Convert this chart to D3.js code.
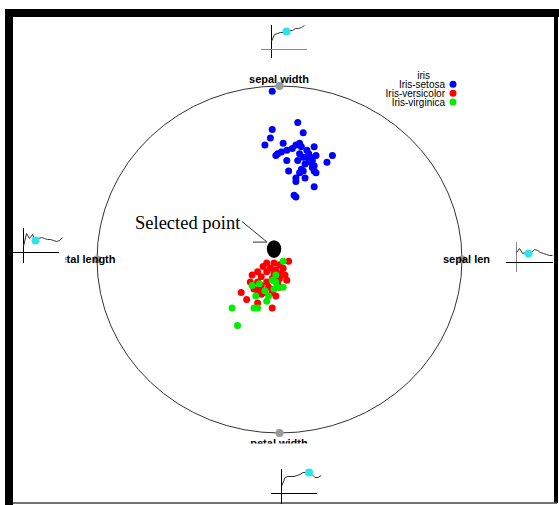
<!DOCTYPE html>
<html>
<head>
<meta charset="utf-8">
<script src="https://cdn.jsdelivr.net/npm/d3@7"></script>
<style>
  html, body { margin: 0; padding: 0; background: #fff; }
  svg { display: block; }
</style>
</head>
<body>
<script>
// RadViz projection of the iris data set: projected coordinates in percent of the anchor radius.
const species = ["Iris-setosa", "Iris-versicolor", "Iris-virginica"];
const speciesColors = ["#0000ff", "#ff0000", "#00ee00"];

const setosa = [
  [-4, 97], [10, 79], [-4, 75], [13, 73], [-5, 70], [-8, 66], [2, 67], [9, 66], [11, 67], [12, 65],
  [19, 65], [4, 63], [1, 62], [-1, 61], [-2, 60], [11, 61], [13, 59], [16, 61], [17, 59], [20, 60],
  [29, 60], [4, 57], [14, 55], [17, 56], [19, 54], [26, 56], [12, 52], [13, 51], [18, 53], [19, 51],
  [20, 50], [5, 51], [11, 50], [9, 47], [9, 45], [19, 42], [8, 37], [9, 36], [7, 64], [15, 63],
  [10, 57], [16, 58], [14, 47], [18, 57]
];
const versicolor = [
  [5, -1], [-7, -2], [-3, -2], [0, -3], [-9, -4], [-5, -5], [-2, -6], [2, -5], [-12, -7], [-7, -7],
  [-3, -8], [1, -8], [-15, -9], [-10, -10], [-4, -11], [0, -11], [-16, -13], [-12, -13], [-7, -13],
  [-14, -17], [-11, -17], [-6, -16], [-21, -19], [-18, -23], [-12, -25], [-8, -19], [-4, -19],
  [-2, -21], [-4, -28], [0, -16], [4, -12], [-12, -18], [-10, -20], [3, -9], [-1, -14], [-10, -15]
];
const virginica = [
  [2, -1], [-26, -28], [-23, -38], [-14, -28], [-12, -28], [-13, -21], [-7, -24], [-6, -21],
  [-3, -17], [-1, -16], [2, -16], [-2, -13], [-4, -12], [-8, -18], [-11, -14], [-15, -15], [-2, -9]
];
const selectedPoint = [-3, 6];

// Dimension anchors placed around the circle (angle in degrees).
const anchorNames = ["sepal len", "sepal width", "petal length", "petal width"];
const anchorAngles = [0, 90, 180, 270];

// Per-dimension value profiles shown in the small charts beside each anchor.
const traceSepalWidth = [8, 15, 16, 17, 17, 18, 19, 19, 21, 21, 22, 24];
const traceSepalLen = [10, 14, 9, 10, 9, 10, 13, 12, 10, 9, 8, 7, 7];
const tracePetalLength = [6, 19, 14, 18, 12, 14, 15, 14, 13, 13, 12, 11, 12, 15];
const tracePetalWidth = [8, 16, 17, 17, 17, 18, 19, 21, 21, 21, 19, 16, 16, 18];
const traceMarks = { sepalWidth: 5, sepalLen: 4, petalLength: 4, petalWidth: 9 };

const W = 559, H = 505;
const svg = d3.select("body").append("svg").attr("width", W).attr("height", H);

// Frame
svg.append("rect").attr("x", 5).attr("y", 9).attr("width", 554).attr("height", 8).attr("fill", "#000");
svg.append("rect").attr("x", 5).attr("y", 9).attr("width", 8).attr("height", 496).attr("fill", "#000");
svg.append("rect").attr("x", 554).attr("y", 9).attr("width", 4).attr("height", 494).attr("fill", "#000");
svg.append("line").attr("x1", 13).attr("x2", 557).attr("y1", 503).attr("y2", 503)
  .attr("stroke", "#444").attr("stroke-width", 1.5);

// Radviz circle
const cx = 279.5, cy = 259.5, rx = 182.5, ry = 173.5;
const sx = d3.scaleLinear().domain([-100, 100]).range([cx - rx, cx + rx]);
const sy = d3.scaleLinear().domain([-100, 100]).range([cy + ry, cy - ry]);

svg.append("ellipse").attr("cx", sx(0)).attr("cy", sy(0))
  .attr("rx", sx(100) - sx(0)).attr("ry", sy(0) - sy(100))
  .attr("fill", "none").attr("stroke", "#333").attr("stroke-width", 1);

const anchors = anchorNames.map((name, i) => {
  const a = anchorAngles[i] * Math.PI / 180;
  return { name, ax: 100 * Math.cos(a), ay: 100 * Math.sin(a) };
});

svg.append("g").selectAll("circle").data(anchors).join("circle")
  .attr("cx", d => sx(d.ax)).attr("cy", d => sy(d.ay)).attr("r", 4)
  .attr("fill", "#9a9a9a");

// Anchor labels
const defs = svg.append("defs");
defs.append("clipPath").attr("id", "clipLeft").append("rect")
  .attr("x", 65.5).attr("y", 240).attr("width", 120).attr("height", 40);
defs.append("clipPath").attr("id", "clipBottom").append("rect")
  .attr("x", 200).attr("y", 430).attr("width", 160).attr("height", 13.5);

const labelFont = "'Liberation Sans', Arial, sans-serif";
const labelPos = {
  "sepal len": { x: 443, y: 262.5, anchor: "start", clip: null },
  "sepal width": { x: 279, y: 83, anchor: "middle", clip: null },
  "petal length": { x: 115.5, y: 262.5, anchor: "end", clip: "url(#clipLeft)" },
  "petal width": { x: 279, y: 446.5, anchor: "middle", clip: "url(#clipBottom)" }
};
svg.append("g").selectAll("text").data(anchors).join("text")
  .attr("x", d => labelPos[d.name].x).attr("y", d => labelPos[d.name].y)
  .attr("text-anchor", d => labelPos[d.name].anchor)
  .attr("clip-path", d => labelPos[d.name].clip)
  .attr("font-family", labelFont).attr("font-weight", "bold").attr("font-size", 11)
  .attr("fill", "#000")
  .text(d => d.name);

// Data points
const groups = [setosa, versicolor, virginica];
groups.forEach((pts, gi) => {
  svg.append("g").selectAll("circle").data(pts).join("circle")
    .attr("cx", d => sx(d[0])).attr("cy", d => sy(d[1])).attr("r", 3.5)
    .attr("fill", speciesColors[gi]);
});

// Selected point with annotation
svg.append("ellipse").attr("cx", sx(selectedPoint[0])).attr("cy", sy(selectedPoint[1]))
  .attr("rx", 7.2).attr("ry", 8.8).attr("fill", "#000");
const tipX = sx(selectedPoint[0]) - 7, tipY = sy(selectedPoint[1]) - 7;
svg.append("line").attr("x1", 242).attr("y1", 221.5).attr("x2", tipX).attr("y2", tipY)
  .attr("stroke", "#333").attr("stroke-width", 1);
svg.append("line").attr("x1", tipX - 14).attr("y1", tipY).attr("x2", tipX).attr("y2", tipY)
  .attr("stroke", "#333").attr("stroke-width", 1);
svg.append("text").attr("x", 135).attr("y", 229)
  .attr("font-family", "'Liberation Serif', 'Times New Roman', serif").attr("font-size", 18.5)
  .attr("fill", "#000").text("Selected point");

// Legend
const legendFont = "'Liberation Sans', Arial, sans-serif";
svg.append("text").attr("x", 430).attr("y", 78.5).attr("text-anchor", "end")
  .attr("font-family", legendFont).attr("font-size", 10).attr("fill", "#000").text("iris");
const legendY = [84.3, 93.3, 102];
species.forEach((s, i) => {
  svg.append("text").attr("x", 445).attr("y", legendY[i] + 3.5).attr("text-anchor", "end")
    .attr("font-family", legendFont).attr("font-size", 10).attr("fill", "#000").text(s);
  svg.append("circle").attr("cx", 453).attr("cy", legendY[i]).attr("r", 3.5)
    .attr("fill", speciesColors[i]);
});

// Small value charts beside each anchor
function miniChart(values, mark, o) {
  const g = svg.append("g");
  const x = d3.scaleLinear().domain([0, values.length - 1]).range([o.x0, o.x0 + 3 * (values.length - 1)]);
  const y = d3.scaleLinear().domain([0, 10]).range([o.oy, o.oy - 10]);
  g.append("line").attr("x1", o.ox).attr("x2", o.ox).attr("y1", o.v[0]).attr("y2", o.v[1])
    .attr("stroke", o.vColor).attr("stroke-width", 1);
  g.append("line").attr("x1", o.h[0]).attr("x2", o.h[1]).attr("y1", o.oy).attr("y2", o.oy)
    .attr("stroke", o.hColor).attr("stroke-width", 1);
  g.append("path").datum(values)
    .attr("d", d3.line().x((d, i) => x(i)).y(d => y(d)))
    .attr("fill", "none").attr("stroke", "#333").attr("stroke-width", 1);
  g.append("circle").attr("cx", x(mark)).attr("cy", y(values[mark])).attr("r", 4)
    .attr("fill", "#2fe3ec");
}

miniChart(traceSepalWidth, traceMarks.sepalWidth,
  { ox: 271.5, oy: 49.5, x0: 271.5, v: [25, 58], h: [261, 307], vColor: "#000", hColor: "#888" });
miniChart(tracePetalLength, traceMarks.petalLength,
  { ox: 23.5, oy: 252.5, x0: 23.5, v: [228, 263], h: [13, 59], vColor: "#000", hColor: "#000" });
miniChart(traceSepalLen, traceMarks.sepalLen,
  { ox: 516.5, oy: 262.5, x0: 516.5, v: [242, 272], h: [506, 553], vColor: "#888", hColor: "#000" });
miniChart(tracePetalWidth, traceMarks.petalWidth,
  { ox: 281.5, oy: 493.5, x0: 282, v: [469, 504], h: [271, 317], vColor: "#000", hColor: "#000" });
</script>
</body>
</html>
